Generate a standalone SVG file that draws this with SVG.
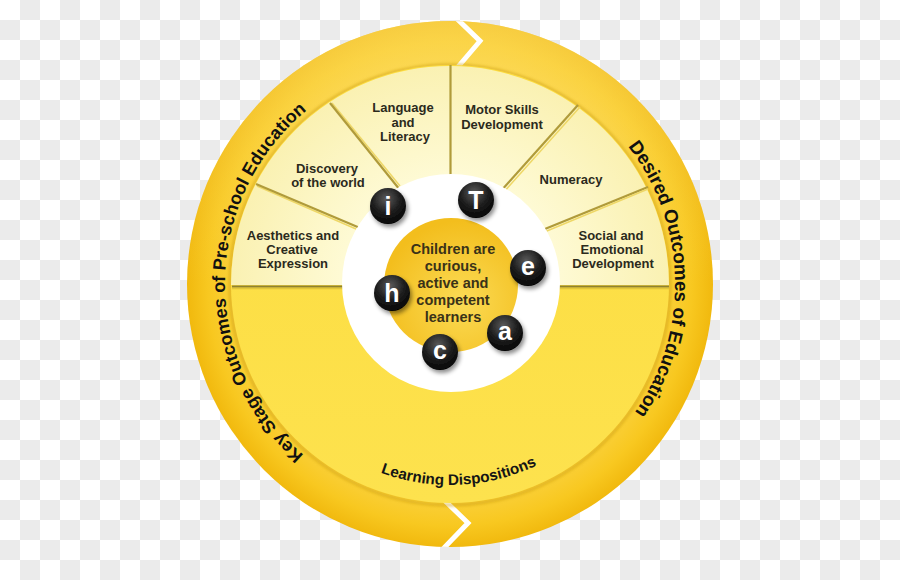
<svg xmlns="http://www.w3.org/2000/svg" width="900" height="580" viewBox="0 0 900 580">
  <defs>
    <pattern id="checker" x="0" y="0" width="40" height="40" patternUnits="userSpaceOnUse">
      <rect x="0" y="0" width="40" height="40" fill="#ffffff"/>
      <rect x="20" y="0" width="20" height="20" fill="#ebebeb"/>
      <rect x="0" y="20" width="20" height="20" fill="#ebebeb"/>
    </pattern>
    <radialGradient id="bandGrad" cx="450" cy="284" r="263" gradientUnits="userSpaceOnUse">
      <stop offset="0.82" stop-color="#FAD03A"/>
      <stop offset="0.92" stop-color="#F8C820"/>
      <stop offset="1" stop-color="#F1B90E"/>
    </radialGradient>
    <linearGradient id="bandSheen" x1="0" y1="0" x2="0" y2="1">
      <stop offset="0" stop-color="#FFE680" stop-opacity="0.45"/>
      <stop offset="0.5" stop-color="#FFE680" stop-opacity="0"/>
    </linearGradient>
    <radialGradient id="segGrad" cx="450" cy="284" r="219" gradientUnits="userSpaceOnUse">
      <stop offset="0.5" stop-color="#FEFAD4"/>
      <stop offset="1" stop-color="#FAF1B2"/>
    </radialGradient>
    <linearGradient id="lowGrad" x1="0" y1="0" x2="0" y2="1">
      <stop offset="0" stop-color="#FCDC3E"/>
      <stop offset="1" stop-color="#FDE24E"/>
    </linearGradient>
    <radialGradient id="coreGrad" cx="0.58" cy="0.62" r="0.6">
      <stop offset="0" stop-color="#FBDB55"/>
      <stop offset="1" stop-color="#F3BE1D"/>
    </radialGradient>
    <radialGradient id="ballGrad" cx="0.45" cy="0.3" r="0.7">
      <stop offset="0" stop-color="#5a5a5a"/>
      <stop offset="0.55" stop-color="#1e1e1e"/>
      <stop offset="1" stop-color="#050505"/>
    </radialGradient>
    <filter id="ballShadow" x="-50%" y="-50%" width="200%" height="200%">
      <feDropShadow dx="2" dy="3" stdDeviation="2" flood-color="#000" flood-opacity="0.45"/>
    </filter>
    <filter id="softShadow" x="-10%" y="-10%" width="120%" height="120%">
      <feGaussianBlur stdDeviation="1.5"/>
    </filter>
    <clipPath id="outerClip">
      <circle cx="450" cy="284" r="263"/>
    </clipPath>
    <path id="leftArc" d="M 450,509 A 225 225 0 0 1 450,59"/>
    <path id="rightArc" d="M 450,59 A 225 225 0 0 1 450,509"/>
    <path id="bottomArc" d="M 249,284 A 201 201 0 0 0 651,284"/>
    <style>
      .seg { font-family: "Liberation Sans", Arial, sans-serif; font-weight: bold; font-size: 13px; fill: #2b2a1c; text-anchor: middle; }
      .core { font-family: "Liberation Sans", Arial, sans-serif; font-weight: bold; font-size: 14.5px; fill: #3a3218; text-anchor: middle; }
      .ring { font-family: "Liberation Sans", Arial, sans-serif; font-weight: bold; font-size: 18px; fill: #111111; }
      .ringR { font-family: "Liberation Sans", Arial, sans-serif; font-weight: bold; font-size: 18.8px; fill: #111111; }
      .disp { font-family: "Liberation Sans", Arial, sans-serif; font-weight: bold; font-size: 15.3px; fill: #151515; }
      .ball { fill: url(#ballGrad); filter: url(#ballShadow); }
      .letter { font-family: "Liberation Sans", Arial, sans-serif; font-weight: bold; font-size: 25px; fill: #ffffff; text-anchor: middle; }
      .divider { stroke: #B09B3A; stroke-width: 2.2; fill: none; }
      .dividerHi { stroke: #EED766; stroke-width: 1.5; fill: none; }
      .chev { stroke: #ffffff; stroke-width: 5; fill: none; stroke-linejoin: miter; }
    </style>
  </defs>

  <!-- transparent-style checkerboard background -->
  <rect id="background" x="0" y="0" width="900" height="580" fill="url(#checker)"/>

  <!-- outer arrow ring -->
  <g id="outer-ring">
    <circle cx="450" cy="284" r="263" fill="url(#bandGrad)"/>
    <circle cx="450" cy="284" r="263" fill="url(#bandSheen)"/>
    <g clip-path="url(#outerClip)">
      <polyline class="chev" points="452,14 480,41 457,68"/>
      <polyline class="chev" points="441,497 468,523 442,550"/>
    </g>
  </g>

  <!-- inner disc -->
  <g id="inner-disc">
    <circle cx="450" cy="285" r="220" fill="none" stroke="#C99A08" stroke-width="3" opacity="0.55" filter="url(#softShadow)"/>
    <circle cx="450" cy="284" r="219" fill="url(#lowGrad)"/>
    <path d="M 231,285 A 219 219 0 0 1 669,285 Z" fill="url(#segGrad)"/>
  </g>

  <!-- segment dividers -->
  <g id="connectors">
    <line class="dividerHi" x1="257" y1="186" x2="356" y2="229"/>
    <line class="divider" x1="256" y1="184" x2="360" y2="228"/>
    <line class="dividerHi" x1="332" y1="103" x2="400" y2="186"/>
    <line class="divider" x1="330" y1="103" x2="400" y2="190"/>
    <line class="divider" x1="450.5" y1="65" x2="450.5" y2="180"/>
    <line class="divider" x1="578" y1="105" x2="500" y2="192"/>
    <line class="dividerHi" x1="580" y1="107" x2="503" y2="193"/>
    <line class="divider" x1="648" y1="187" x2="540" y2="231"/>
    <line class="dividerHi" x1="648" y1="189" x2="542" y2="233"/>
    <line x1="232" y1="286.5" x2="669" y2="286.5" stroke="#8F8230" stroke-width="2"/>
    <line x1="232" y1="288.5" x2="669" y2="288.5" stroke="#D7BC35" stroke-width="1.5" opacity="0.7"/>
  </g>

  <!-- segment labels -->
  <g id="seg-aesthetics">
    <text class="seg" x="293" y="240">Aesthetics and</text>
    <text class="seg" x="292" y="254">Creative</text>
    <text class="seg" x="293" y="268">Expression</text>
  </g>
  <g id="seg-discovery">
    <text class="seg" x="327" y="173">Discovery</text>
    <text class="seg" x="328" y="187">of the world</text>
  </g>
  <g id="seg-language">
    <text class="seg" x="403" y="112">Language</text>
    <text class="seg" x="403" y="127">and</text>
    <text class="seg" x="405" y="141">Literacy</text>
  </g>
  <g id="seg-motor">
    <text class="seg" x="502" y="114">Motor Skills</text>
    <text class="seg" x="502" y="129">Development</text>
  </g>
  <g id="seg-numeracy">
    <text class="seg" x="571" y="184">Numeracy</text>
  </g>
  <g id="seg-social">
    <text class="seg" x="611" y="240">Social and</text>
    <text class="seg" x="612" y="254">Emotional</text>
    <text class="seg" x="613" y="268">Development</text>
  </g>

  <!-- centre -->
  <g id="center">
    <circle cx="451" cy="283" r="109" fill="#ffffff"/>
    <circle cx="451" cy="285" r="67" fill="url(#coreGrad)"/>
    <text class="core" x="453" y="254">Children are</text>
    <text class="core" x="453" y="271">curious,</text>
    <text class="core" x="453" y="288">active and</text>
    <text class="core" x="453" y="305">competent</text>
    <text class="core" x="453" y="322">learners</text>
  </g>

  <!-- letter balls -->
  <g id="ball-i"><circle class="ball" cx="388" cy="206" r="18"/><text class="letter" x="388" y="215">i</text></g>
  <g id="ball-T"><circle class="ball" cx="476" cy="200" r="18"/><text class="letter" x="476" y="209">T</text></g>
  <g id="ball-e"><circle class="ball" cx="528" cy="268" r="18"/><text class="letter" x="528" y="275">e</text></g>
  <g id="ball-a"><circle class="ball" cx="505" cy="333" r="18"/><text class="letter" x="505" y="340">a</text></g>
  <g id="ball-c"><circle class="ball" cx="440" cy="352" r="18"/><text class="letter" x="440" y="359">c</text></g>
  <g id="ball-h"><circle class="ball" cx="392" cy="293" r="18"/><text class="letter" x="392" y="302">h</text></g>

  <!-- curved labels -->
  <g id="label-key-stage">
    <text class="ring"><textPath href="#leftArc" startOffset="50.3%" text-anchor="middle">Key Stage Outcomes of Pre-school Education</textPath></text>
  </g>
  <g id="label-desired">
    <text class="ringR"><textPath href="#rightArc" startOffset="49.2%" text-anchor="middle">Desired Outcomes of Education</textPath></text>
  </g>
  <g id="label-dispositions">
    <text class="disp"><textPath href="#bottomArc" startOffset="51.5%" text-anchor="middle">Learning Dispositions</textPath></text>
  </g>
</svg>
